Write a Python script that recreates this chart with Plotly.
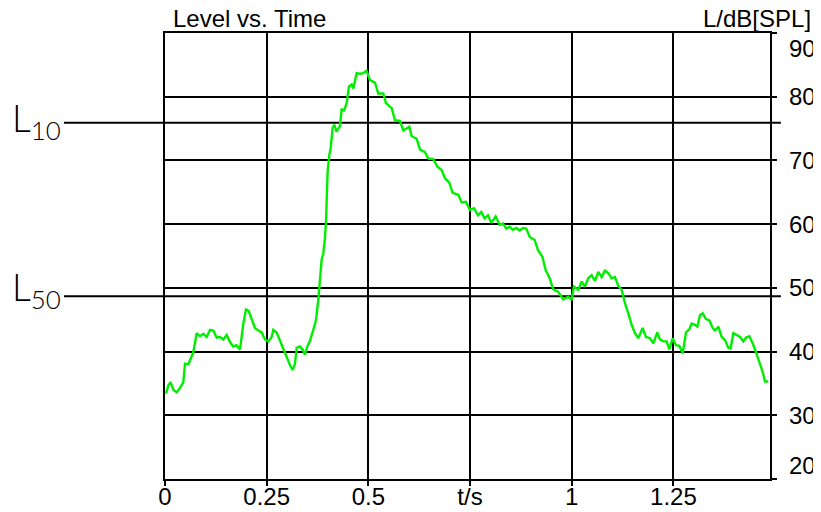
import plotly.graph_objects as go

# ---- data ----
time_s = [
    0.0025, 0.0082, 0.0139, 0.0205, 0.0287, 0.0369, 0.0451, 0.0492, 0.0574, 0.0656,
    0.0697, 0.0778, 0.0860, 0.0942, 0.1024, 0.1106, 0.1188, 0.1270, 0.1352, 0.1434,
    0.1516, 0.1598, 0.1680, 0.1762, 0.1844, 0.1926, 0.1991, 0.2057, 0.2130, 0.2212,
    0.2294, 0.2376, 0.2458, 0.2540, 0.2622, 0.2663, 0.2745, 0.2827, 0.2909, 0.2991,
    0.3073, 0.3138, 0.3196, 0.3237, 0.3319, 0.3384, 0.3441, 0.3499, 0.3564, 0.3646,
    0.3712, 0.3769, 0.3810, 0.3851, 0.3892, 0.3933, 0.3958, 0.3974, 0.3999, 0.4040,
    0.4072, 0.4122, 0.4163, 0.4220, 0.4302, 0.4343, 0.4408, 0.4466, 0.4523, 0.4589,
    0.4630, 0.4712,
    0.4794, 0.4875, 0.4957, 0.5039, 0.5163, 0.5244, 0.5367, 0.5433, 0.5573, 0.5655,
    0.5778, 0.5860, 0.5942, 0.6007, 0.6065, 0.6188, 0.6270, 0.6393, 0.6475, 0.6598,
    0.6696, 0.6802, 0.6884, 0.6990, 0.7072, 0.7212, 0.7294, 0.7400, 0.7498, 0.7597,
    0.7695, 0.7777, 0.7859, 0.7941, 0.8023, 0.8130, 0.8228, 0.8310, 0.8392, 0.8474,
    0.8556, 0.8638, 0.8720, 0.8802, 0.8884, 0.8966, 0.9089, 0.9171, 0.9278, 0.9360,
    0.9458, 0.9540, 0.9663,
    0.9710, 0.9792, 0.9915, 0.9997, 1.0054, 1.0161, 1.0243, 1.0325, 1.0407, 1.0489,
    1.0571, 1.0653, 1.0735, 1.0817, 1.0899, 1.0981, 1.1063, 1.1145, 1.1227, 1.1309,
    1.1391, 1.1473, 1.1555, 1.1637, 1.1743, 1.1825, 1.1924, 1.2006, 1.2104, 1.2170,
    1.2252, 1.2334, 1.2400, 1.2482, 1.2564, 1.2646, 1.2728, 1.2810, 1.2892, 1.2949,
    1.3031, 1.3089, 1.3154, 1.3220, 1.3302, 1.3384, 1.3466, 1.3523, 1.3605, 1.3687,
    1.3769, 1.3851, 1.3908, 1.3974, 1.4056, 1.4138, 1.4220, 1.4285, 1.4367, 1.4449,
    1.4531, 1.4613, 1.4695, 1.4752, 1.4834,
]
level_db = [
    33.4, 34.7, 35.2, 34.0, 33.6, 34.3, 35.2, 38.1, 38.0, 39.2,
    39.9, 42.9, 42.4, 42.8, 42.3, 43.4, 43.3, 42.2, 42.3, 41.9,
    42.6, 41.5, 40.8, 41.0, 40.3, 44.4, 46.6, 46.4, 45.2, 43.7,
    43.3, 43.0, 41.9, 41.6, 42.3, 43.4, 43.0, 41.7, 40.3, 39.2,
    37.9, 37.1, 38.1, 40.6, 40.8, 40.3, 39.5, 40.8, 41.7, 43.4,
    44.9, 48.1, 51.2, 54.4, 55.4, 57.8, 60.4, 64.6, 68.3, 70.9,
    71.8, 75.1, 75.6, 74.5, 75.4, 78.0, 77.9, 79.0, 81.6, 81.9,
    81.3, 83.7,
    83.6, 83.7, 84.1, 82.6, 82.2, 80.5, 80.5, 79.0, 78.2, 76.3,
    76.2, 74.7, 75.0, 75.3, 73.8, 73.4, 71.7, 71.3, 70.3, 70.2,
    69.0, 68.5, 67.2, 66.5, 64.9, 64.6, 63.4, 63.5, 62.2, 62.5,
    61.4, 61.9, 60.9, 61.4, 60.2, 61.2, 59.9, 60.1, 59.3, 59.6,
    59.1, 59.4, 59.0, 59.4, 59.3, 58.0, 57.5, 55.9, 54.9, 52.8,
    51.5, 49.8, 49.4,
    48.9, 48.2, 48.6, 48.1, 50.2, 49.7, 51.0, 50.2, 51.5, 52.0,
    51.1, 52.5, 51.7, 52.7, 52.3, 51.5, 51.7, 50.3, 49.7, 47.6,
    46.0, 44.2, 42.9, 42.1, 43.7, 42.3, 42.1, 41.3, 43.0, 41.9,
    41.6, 41.6, 40.35, 42.1, 41.0, 40.9, 39.7, 43.0, 43.5, 44.4,
    44.2, 43.9, 45.7, 46.0, 45.1, 44.9, 43.7, 43.3, 43.9, 42.3,
    41.8, 40.6, 40.5, 42.9, 42.6, 42.3, 41.6, 42.2, 42.4, 41.3,
    39.9, 38.4, 36.8, 35.3, 35.3,
]

x_tick_vals = [0, 0.25, 0.5, 0.75, 1, 1.25]
x_tick_text = ["0", "0.25", "0.5", "t/s", "1", "1.25"]
y_tick_vals = [20, 30, 40, 50, 60, 70, 80, 90]
y_tick_text = ["20", "30", "40", "50", "60", "70", "80", "90"]

L10 = 75.9
L50 = 48.7

X_RANGE = [0, 1.4875]
Y_RANGE = [20, 90]

FONT = "Liberation Sans, Arial, sans-serif"
LFONT = "Lato, Noto Sans, sans-serif"
FS = 24

fig = go.Figure()
fig.add_trace(go.Scatter(
    x=time_s, y=level_db, mode="lines",
    line=dict(color="#00ee00", width=2.4),
    hoverinfo="skip", showlegend=False,
))

axis_common = dict(
    showgrid=True, gridcolor="black", gridwidth=1.6,
    showline=True, linecolor="black", linewidth=2, mirror=True,
    zeroline=False, ticks="outside", ticklen=5, tickwidth=2, tickcolor="black",
    automargin=False,
)
fig.update_xaxes(range=X_RANGE, tickmode="array", tickvals=x_tick_vals,
                 ticktext=x_tick_text, tickfont=dict(family=FONT, size=FS, color="black"),
                 ticklabelstandoff=-10, **axis_common)
fig.update_yaxes(range=Y_RANGE, side="right", tickmode="array", tickvals=y_tick_vals,
                 showticklabels=False, **axis_common)

# reference level lines
for lv in (L10, L50):
    fig.add_shape(type="line", xref="paper", yref="y", x0=-0.167, x1=1.018,
                  y0=lv, y1=lv, line=dict(color="black", width=2), layer="below")

annotations = []
# y tick labels
for v, txt in zip(y_tick_vals, y_tick_text):
    shift = 0
    if v == Y_RANGE[1]:
        shift = -15
    elif v == Y_RANGE[0]:
        shift = 14
    annotations.append(dict(x=1.028, xref="paper", y=v, yref="y", text=txt,
                            xanchor="left", yanchor="middle", yshift=shift,
                            showarrow=False, font=dict(family=FONT, size=FS, color="black")))
# titles
annotations.append(dict(x=0.010, xref="paper", y=1.033, yref="paper", text="Level vs. Time",
                        xanchor="left", yanchor="middle", showarrow=False,
                        font=dict(family=FONT, size=FS, color="black")))
annotations.append(dict(x=1.071, xref="paper", y=1.033, yref="paper", text="L/dB[SPL]",
                        xanchor="right", yanchor="middle", showarrow=False,
                        font=dict(family=FONT, size=FS, color="black")))
# L10 / L50 labels
for (ly, sub) in ((0.8040, "10"), (0.4245, "50")):
    annotations.append(dict(x=-0.2565, xref="paper", y=ly, yref="paper",
                            text="L<sub>" + sub + "</sub>",
                            xanchor="left", yanchor="middle", showarrow=False,
                            font=dict(family=LFONT, size=37, color="black", weight=300)))

# page body has an 8 px margin: the figure is 8 px smaller so that it fits the window
fig.update_layout(
    width=813, height=504,
    margin=dict(l=157, r=51, t=25, b=33),
    paper_bgcolor="white", plot_bgcolor="white",
    annotations=annotations, showlegend=False,
)

fig.write_html("out.html")
